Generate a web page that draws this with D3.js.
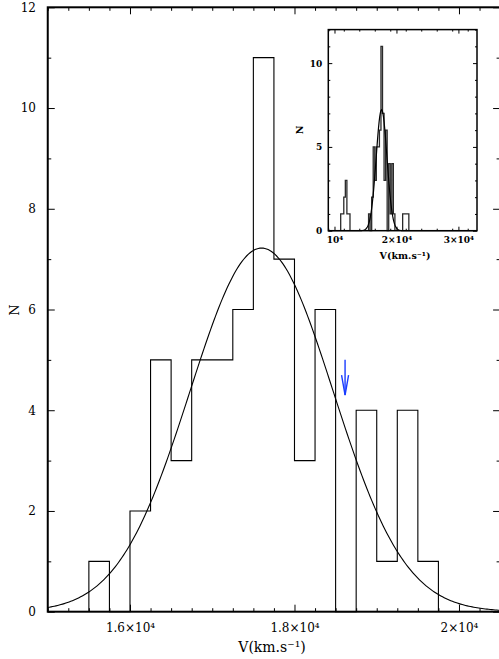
<!DOCTYPE html>
<html lang="en">
<head>
<meta charset="UTF-8">
<title>Velocity histogram</title>
<style>
  body { margin: 0; background: #fff; }
  svg { display: block; }
  text { font-family: "DejaVu Serif", serif; fill: #000; }
</style>
</head>
<body>
<svg id="chart" width="499" height="659"></svg>
<script src="https://cdn.jsdelivr.net/npm/d3@7/dist/d3.min.js"></script>
<script>
// histogram, bin width 250 km/s, left edges start at 15500
var binWidth = 250;
var mainBinStart = 15500;
var mainCounts = [1, 0, 2, 5, 3, 5, 5, 6, 11, 7, 3, 6, 0, 4, 1, 4, 1];

// extra objects only seen in the inset (full sample)
var lowBinStart = 11000;
var lowCounts = [1, 1, 2, 3, 1, 1];
var highBinStart = 21000;
var highCounts = [1, 1, 1, 1];

// gaussian fit
var fitMean = 17600, fitSigma = 870, fitPeak = 7.22;

// blue arrow: velocity, from N, to N
var arrowV = 18615, arrowFrom = 5.0, arrowTo = 4.3;

var xMajor = [16000, 18000, 20000];
var yMajor = [0, 2, 4, 6, 8, 10, 12];
var insetXMajor = [10000, 20000, 30000];
var insetYMajor = [0, 5, 10];

var svg = d3.select("#chart");

var x = d3.scaleLinear().domain([15000, 20500]).range([47.75, 500.1]),
    y = d3.scaleLinear().domain([0, 12]).range([611.7, 7.3]);

function sup(v) {
  var m = v / 1e4;
  return (m === 1 ? "" : m + "\u00d7") + "10\u2074";
}

function steps(start, counts) {
  // outline points for a step histogram
  var pts = [[start, 0]];
  counts.forEach(function (c, i) {
    pts.push([start + i * binWidth, c]);
    pts.push([start + (i + 1) * binWidth, c]);
  });
  pts.push([start + counts.length * binWidth, 0]);
  return pts;
}

function gauss(v) {
  return fitPeak * Math.exp(-Math.pow(v - fitMean, 2) / (2 * fitSigma * fitSigma));
}

// ---------- main panel ----------
var line = d3.line().x(function (d) { return x(d[0]); }).y(function (d) { return y(d[1]); });

svg.append("path")
  .attr("d", line(steps(mainBinStart, mainCounts)))
  .attr("fill", "none").attr("stroke", "#000").attr("stroke-width", 1.1);

svg.append("path")
  .attr("d", line(d3.range(15000, 20520, 20).map(function (v) { return [v, gauss(v)]; })))
  .attr("fill", "none").attr("stroke", "#000").attr("stroke-width", 1.1);

// arrow
var ax = x(arrowV);
svg.append("line")
  .attr("x1", ax).attr("x2", ax).attr("y1", y(arrowFrom)).attr("y2", y(arrowTo))
  .attr("stroke", "#1a3cff").attr("stroke-width", 1.4);
svg.append("path")
  .attr("d", "M" + (ax - 3.5) + "," + (y(arrowTo) - 20) + "L" + ax + "," + y(arrowTo) + "L" + (ax + 3.5) + "," + (y(arrowTo) - 20))
  .attr("fill", "none").attr("stroke", "#1a3cff").attr("stroke-width", 1.4);

function minorOf(lo, hi, step, majors) {
  return d3.range(lo, hi + 1, step).filter(function (v) { return majors.indexOf(v) < 0; });
}

// box with inward ticks on all four sides, labels only bottom and left
function drawAxes(xs, ys, o) {
  var x0 = xs.range()[0], x1 = xs.range()[1], y0 = ys.range()[0], y1 = ys.range()[1];
  var xMin = minorOf(xs.domain()[0], xs.domain()[1], o.xStep, o.xMajor);
  var yMin = minorOf(0, 12, 1, o.yMajor);
  var specs = [
    [d3.axisBottom(xs), "translate(0," + y0 + ")", o.xMajor, xMin, o.xFmt],
    [d3.axisTop(xs), "translate(0," + y1 + ")", o.xMajor, xMin, ""],
    [d3.axisLeft(ys), "translate(" + x0 + ",0)", o.yMajor, yMin, d3.format("d")],
    [d3.axisRight(ys), "translate(" + x1 + ",0)", o.yMajor, yMin, ""]
  ];
  specs.forEach(function (s) {
    var a = s[0];
    svg.append("g").attr("transform", s[1])
      .call(a.tickValues(s[3]).tickSize(-o.minor).tickFormat(""))
      .call(function (g) { g.select(".domain").remove(); });
    var g = svg.append("g").attr("transform", s[1])
      .call(a.tickValues(s[2]).tickSize(-o.major).tickPadding(o.pad).tickFormat(s[4]))
      .call(function (g) { g.select(".domain").remove(); });
    g.selectAll("text").attr("font-family", "DejaVu Serif").attr("font-size", o.font)
      .attr("font-weight", o.weight).attr("fill", "#000");
  });
  svg.selectAll(".tick line").attr("stroke", "#000").attr("stroke-width", 1);
  svg.append("rect")
    .attr("x", x0).attr("y", y1).attr("width", x1 - x0).attr("height", y0 - y1)
    .attr("fill", "none").attr("stroke", "#000").attr("stroke-width", o.frame);
}

drawAxes(x, y, { xStep: 250, xMajor: xMajor, yMajor: yMajor, major: 7, minor: 3.5,
  pad: 11.8, font: 12, weight: "normal", frame: 2, xFmt: sup });

svg.append("text")
  .attr("x", 272).attr("y", 652).attr("text-anchor", "middle").attr("font-size", 14)
  .text("V(km.s\u207b\u00b9)");
svg.append("text")
  .attr("transform", "translate(19,310) rotate(-90)").attr("text-anchor", "middle")
  .attr("font-size", 13).text("N");

// ---------- inset ----------
var ix = d3.scaleLinear().domain([9000, 33000]).range([328.3, 477]),
    iy = d3.scaleLinear().domain([0, 12]).range([230.7, 29.6]);

svg.append("rect").attr("x", 328.3).attr("y", 29.6).attr("width", 477 - 328.3)
  .attr("height", 230.7 - 29.6).attr("fill", "#fff");

var iline = d3.line().x(function (d) { return ix(d[0]); }).y(function (d) { return iy(d[1]); });
[[lowBinStart, lowCounts], [mainBinStart, mainCounts], [highBinStart, highCounts]].forEach(function (h) {
  svg.append("path")
    .attr("d", iline(steps(h[0], h[1])))
    .attr("fill", "none").attr("stroke", "#2a2a2a").attr("stroke-width", 1.3);
});
svg.append("path")
  .attr("d", iline(d3.range(9000, 33000, 100).map(function (v) { return [v, gauss(v)]; })))
  .attr("fill", "none").attr("stroke", "#000").attr("stroke-width", 1.2);

drawAxes(ix, iy, { xStep: 2500, xMajor: insetXMajor, yMajor: insetYMajor, major: 4, minor: 2,
  pad: 6, font: 9, weight: "bold", frame: 1.5, xFmt: sup });

svg.append("text")
  .attr("x", 405).attr("y", 259).attr("text-anchor", "middle").attr("font-size", 9.5)
  .attr("font-weight", "bold").text("V(km.s\u207b\u00b9)");
svg.append("text")
  .attr("transform", "translate(303,130) rotate(-90)").attr("text-anchor", "middle")
  .attr("font-size", 9.5).attr("font-weight", "bold").text("N");
</script>
</body>
</html>
